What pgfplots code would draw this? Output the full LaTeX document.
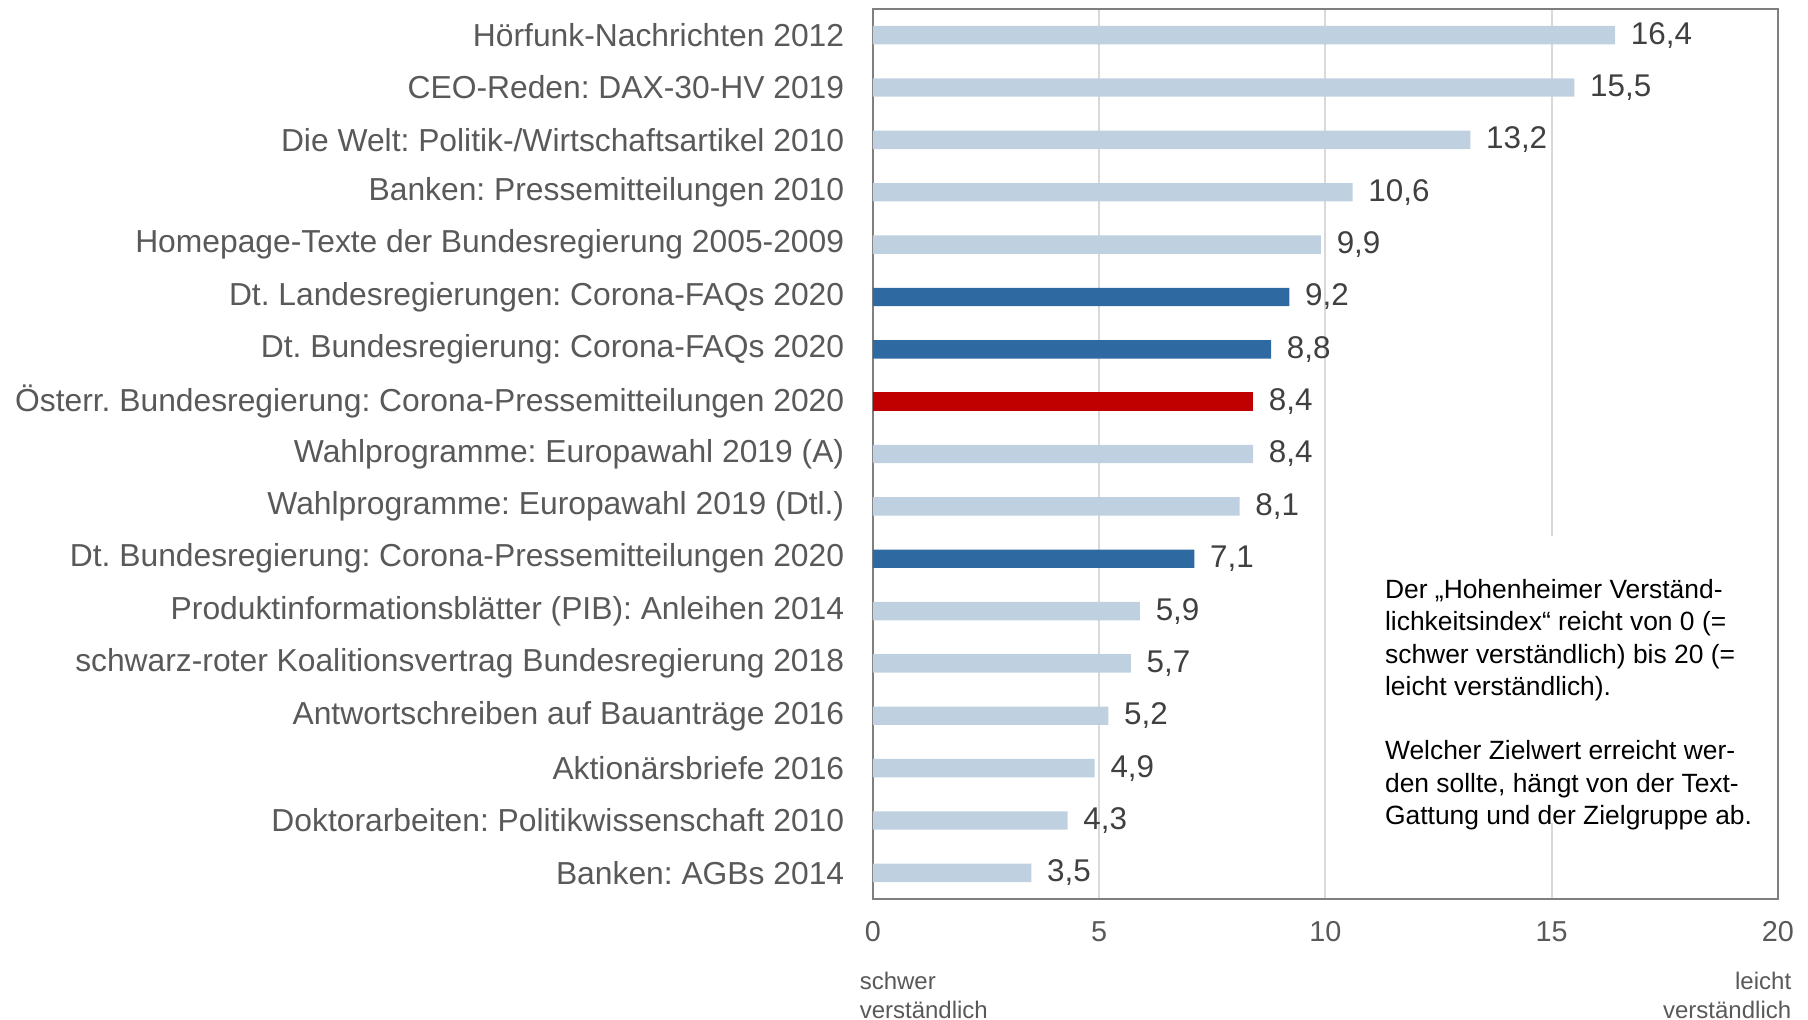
\documentclass[border=0pt]{standalone}
\usepackage{pgfplots}
\pgfplotsset{compat=1.18}
\usepackage{fontspec}
\setmainfont{Liberation Sans}
\frenchspacing
\definecolor{lightbar}{HTML}{BFD1E0}
\definecolor{darkbar}{HTML}{2F69A1}
\definecolor{redbar}{HTML}{C00000}
\definecolor{gridgray}{HTML}{D9D9D9}
\definecolor{framegray}{HTML}{7F7F7F}
\definecolor{labelgray}{HTML}{595959}
\definecolor{valgray}{HTML}{404040}
\begin{document}
\frenchspacing
\begin{tikzpicture}
\path[use as bounding box] (-218.25pt,-30pt) rectangle (233.75pt,224.75pt);
\begin{axis}[
  at={(0,0)}, anchor=south west,
  scale only axis, width=226.25pt, height=222.5pt,
  xbar, bar width=4.6pt, bar shift=0pt,
  xmin=0, xmax=20, ymin=-0.5, ymax=16.5, y dir=reverse,
  xtick={0,5,10,15,20}, xticklabels={0,5,10,15,20},
  ytick={0,...,16},
  yticklabels={
    Hörfunk-Nachrichten 2012,
    CEO-Reden: DAX-30-HV 2019,
    Die Welt: Politik-/Wirtschaftsartikel 2010,
    Banken: Pressemitteilungen 2010,
    Homepage-Texte der Bundesregierung 2005-2009,
    Dt. Landesregierungen: Corona-FAQs 2020,
    Dt. Bundesregierung: Corona-FAQs 2020,
    Österr. Bundesregierung: Corona-Pressemitteilungen 2020,
    Wahlprogramme: Europawahl 2019 (A),
    Wahlprogramme: Europawahl 2019 (Dtl.),
    Dt. Bundesregierung: Corona-Pressemitteilungen 2020,
    Produktinformationsblätter (PIB): Anleihen 2014,
    schwarz-roter Koalitionsvertrag Bundesregierung 2018,
    Antwortschreiben auf Bauanträge 2016,
    Aktionärsbriefe 2016,
    Doktorarbeiten: Politikwissenschaft 2010,
    Banken: AGBs 2014},
  major tick length=0pt,
  xmajorgrids, grid style={line width=0.5pt, draw=gridgray},
  axis line style={line width=0.6pt, draw=framegray},
  yticklabel style={font=\frenchspacing\fontsize{7.95}{9}\selectfont, text=labelgray, anchor=east, inner sep=0pt, xshift=-7pt},
  xticklabel style={font=\fontsize{7.2}{8}\selectfont, text=labelgray, anchor=center, inner sep=0pt, yshift=-8.25pt},
  nodes near coords={\pgfmathprintnumber[use comma,fixed,fixed zerofill,precision=1,assume math mode=true]{\pgfplotspointmeta}},
  nodes near coords align=horizontal,
  every node near coord/.append style={font=\fontsize{7.85}{9}\selectfont, text=valgray, anchor=west, inner sep=0pt, xshift=3.75pt},
  clip=false,
]
\addplot[fill=lightbar, draw=none] coordinates {(16.4,0) (15.5,1) (13.2,2) (10.6,3) (9.9,4) (8.4,8) (8.1,9) (5.9,11) (5.7,12) (5.2,13) (4.9,14) (4.3,15) (3.5,16)};
\addplot[fill=darkbar, draw=none] coordinates {(9.2,5) (8.8,6) (7.1,10)};
\addplot[fill=redbar, draw=none] coordinates {(8.4,7)};
\fill[white] (axis cs:11,9.56) rectangle (axis cs:19.7,15.04);
\node[anchor=north west, align=left, inner sep=0pt, text=black, font=\frenchspacing\fontsize{6.6}{8.07}\selectfont] at (axis cs:11.3,10.38)
{Der „Hohenheimer Verständ-\\
lichkeitsindex“ reicht von 0 (=\\
schwer verständlich) bis 20 (=\\
leicht verständlich).\\
~\\
Welcher Zielwert erreicht wer-\\
den sollte, hängt von der Text-\\
Gattung und der Zielgruppe ab.};
\node[anchor=west, inner sep=0pt, text=labelgray, font=\fontsize{6.0}{7}\selectfont] at ([shift={(-3.5pt,-20.5pt)}]rel axis cs:0,0) {schwer};
\node[anchor=west, inner sep=0pt, text=labelgray, font=\fontsize{6.0}{7}\selectfont] at ([shift={(-3.5pt,-27.75pt)}]rel axis cs:0,0) {verständlich};
\node[anchor=east, inner sep=0pt, text=labelgray, font=\fontsize{6.0}{7}\selectfont] at ([shift={(3.5pt,-20.5pt)}]rel axis cs:1,0) {leicht};
\node[anchor=east, inner sep=0pt, text=labelgray, font=\fontsize{6.0}{7}\selectfont] at ([shift={(3.5pt,-27.75pt)}]rel axis cs:1,0) {verständlich};
\end{axis}
\end{tikzpicture}
\end{document}
